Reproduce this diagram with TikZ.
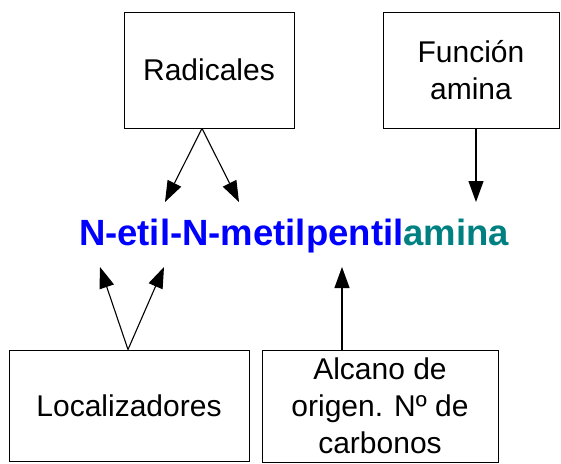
\documentclass[tikz,border=0pt]{standalone}
\usepackage{fontspec}
\setmainfont{Liberation Sans}
\usepackage{tikz}
\usetikzlibrary{arrows.meta,positioning}
\definecolor{nameblue}{RGB}{0,0,255}
\definecolor{nameteal}{RGB}{0,128,128}

\begin{document}
\begin{tikzpicture}[
    x=1pt, y=-1pt,
    box/.style={rectangle, draw=black, line width=0.9pt, align=center,
                font=\fontsize{30}{37}\selectfont, inner sep=0pt},
    arr/.style={-{Triangle[length=21pt,width=15pt]}, black, line width=1.1pt}]
\useasboundingbox (0,0) rectangle (561,463);
\node[box, minimum width=170pt, minimum height=116pt] (rad) at (209,70) {Radicales};
\node[box, minimum width=176pt, minimum height=116pt] (func) at (471,70) {Función\\amina};
\node[anchor=base, font=\fontsize{36.5}{40}\selectfont\bfseries] (name) at (294,245)
    {\textcolor{nameblue}{N-etil-N-metilpentil}\textcolor{nameteal}{amina}};
\node[box, minimum width=240pt, minimum height=111pt] (loc) at (129,405.5) {Localizadores};
\node[box, minimum width=236pt, minimum height=112pt] (alc) at (380,406)
    {Alcano de\\origen. Nº de\\carbonos};
% puntas de las flechas
\coordinate (radA) at (165,202);
\coordinate (radB) at (239,202);
\coordinate (funcA) at (476,202);
\coordinate (locA) at (100,267);
\coordinate (locB) at (164,267);
\coordinate (alcA) at (342,267);
\draw[arr] ([xshift=-7pt]rad.south) -- (radA);
\draw[arr] ([xshift=-7pt]rad.south) -- (radB);
\draw[arr] ([xshift=5pt]func.south) -- (funcA);
\draw[arr] ([xshift=-1pt]loc.north) -- (locA);
\draw[arr] ([xshift=-1pt]loc.north) -- (locB);
\draw[arr] ([xshift=-38pt]alc.north) -- (alcA);
\end{tikzpicture}
\end{document}
